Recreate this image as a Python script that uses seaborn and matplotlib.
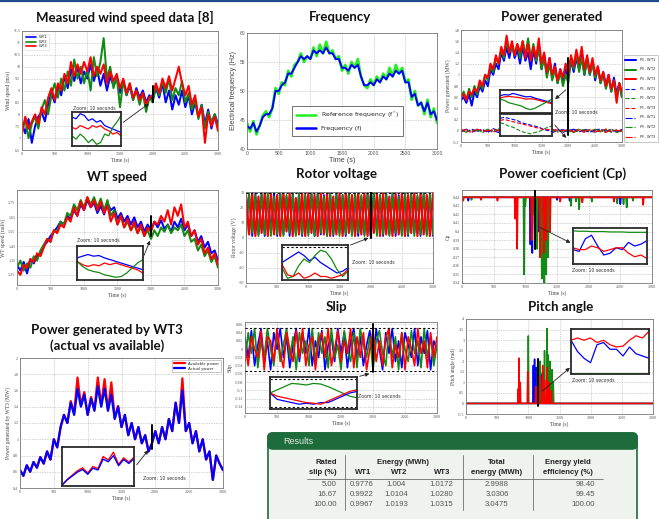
import numpy as np
import matplotlib
matplotlib.use("Agg")
import matplotlib.pyplot as plt
import seaborn as sns
from matplotlib.patches import FancyArrowPatch, FancyBboxPatch
from matplotlib.lines import Line2D
from matplotlib.ticker import FuncFormatter

sns.set_style("white")
plt.rcParams["font.family"] = ["DejaVu Sans"]

# ---------------- data ----------------
TIME_RANGE = (0, 3000)
BLUE, GREEN, RED = "#0000ff", "#138a13", "#ff0000"

wind_wt1 = [7.6, 7.2, 7.8, 6.8, 7.5, 7.9, 8.1, 7.7, 8.4, 8.9, 8.5, 9.2, 8.8, 9.6, 9.1, 9.9, 9.4, 10.0, 9.3, 9.8,
            9.5, 10.1, 9.4, 9.9, 9.2, 9.7, 9.0, 9.6, 9.2, 9.5, 8.9, 9.4, 8.8, 9.2, 8.6, 9.1, 8.7, 9.0, 8.5, 8.8,
            8.6, 9.1, 8.7, 9.3, 8.5, 9.0, 8.2, 8.8, 8.4, 9.0, 8.3, 8.8, 8.0, 8.5, 7.9, 8.4, 7.6, 8.2, 7.4, 8.0, 7.6]
wind_wt2 = [7.3, 7.8, 7.0, 7.6, 7.9, 7.4, 8.2, 8.6, 8.0, 8.8, 9.3, 8.7, 9.5, 9.0, 9.8, 9.2, 10.3, 9.5, 10.0, 9.3,
            9.9, 9.0, 10.4, 9.6, 10.2, 11.2, 9.5, 10.0, 9.1, 9.6, 8.3, 9.4, 8.8, 9.3, 8.6, 9.0, 8.4, 8.9, 8.1, 8.7,
            8.5, 9.2, 8.8, 9.4, 8.9, 9.5, 8.6, 9.1, 8.8, 9.4, 8.5, 8.9, 8.2, 8.6, 7.8, 8.4, 7.4, 8.1, 7.7, 8.0, 7.4]
wind_wt3 = [7.2, 7.9, 7.4, 7.7, 8.0, 7.6, 8.3, 8.0, 8.7, 9.1, 8.6, 9.3, 9.0, 9.7, 9.3, 10.2, 9.6, 10.1, 9.7, 10.2,
            9.8, 10.4, 9.6, 10.0, 9.7, 10.1, 9.3, 9.8, 9.4, 9.7, 9.1, 9.5, 8.9, 9.3, 8.7, 9.0, 8.6, 8.9, 8.4, 8.7,
            8.8, 9.3, 8.9, 9.5, 9.1, 9.6, 9.0, 9.5, 10.0, 9.3, 8.8, 9.2, 8.4, 8.8, 7.9, 8.3, 6.8, 8.0, 7.5, 7.9, 7.3]

freq_ref = [44.5, 43.0, 44.8, 42.5, 44.0, 45.8, 46.5, 45.5, 47.0, 50.5, 49.5, 51.5, 51.0, 53.5, 52.5, 54.5, 55.0,
            56.5, 55.0, 56.0, 55.5, 57.5, 56.0, 58.0, 56.5, 58.5, 56.5, 57.0, 55.5, 56.0, 53.5, 54.5, 53.0, 55.0,
            54.0, 55.5, 52.5, 51.0, 50.5, 52.0, 51.0, 52.5, 51.5, 53.0, 52.0, 54.0, 52.5, 54.5, 53.0, 54.0, 51.5,
            52.0, 48.5, 50.0, 47.5, 48.0, 46.0, 48.5, 45.5, 47.0, 44.5]
freq_act = [44.0, 43.5, 44.5, 43.0, 44.0, 45.5, 46.0, 46.0, 47.0, 50.0, 50.0, 51.0, 51.5, 53.0, 53.0, 54.0, 55.0,
            56.0, 55.5, 56.0, 55.5, 57.0, 56.5, 57.0, 56.5, 57.5, 56.5, 56.5, 55.5, 55.5, 54.0, 54.0, 53.5, 54.5,
            54.0, 54.5, 52.5, 51.0, 51.0, 51.5, 51.0, 52.0, 51.5, 52.5, 52.0, 53.0, 52.5, 53.5, 53.0, 53.5, 51.5,
            51.5, 49.0, 49.5, 47.5, 48.0, 46.5, 48.0, 46.0, 46.5, 45.0]

pg_wt1 = [0.55, 0.6, 0.5, 0.65, 0.45, 0.7, 0.6, 0.8, 0.7, 0.9, 0.8, 1.1, 1.0, 1.2, 1.1, 1.4, 1.25, 1.5, 1.3, 1.55,
          1.3, 1.45, 1.2, 1.5, 1.25, 1.4, 1.1, 1.45, 1.2, 1.55, 1.1, 1.35, 1.0, 1.3, 0.95, 1.2, 0.85, 1.1, 0.9, 1.1,
          0.95, 1.25, 1.05, 1.3, 1.1, 1.35, 1.0, 1.3, 1.0, 1.25, 0.9, 1.15, 0.85, 1.05, 0.8, 1.0, 0.7, 0.95, 0.65,
          0.85, 0.6]
pg_wt2 = [0.6, 0.7, 0.55, 0.75, 0.6, 0.8, 0.65, 0.85, 0.75, 1.0, 0.9, 1.15, 1.05, 1.3, 1.2, 1.45, 1.3, 1.6, 1.4,
          1.5, 1.35, 1.55, 1.3, 1.6, 1.35, 1.65, 1.3, 1.55, 1.25, 1.45, 1.1, 1.3, 0.95, 1.2, 0.9, 1.1, 0.85, 1.05,
          0.8, 1.0, 0.85, 1.3, 1.1, 1.4, 1.05, 1.3, 1.0, 1.25, 1.0, 1.2, 0.95, 1.1, 0.85, 1.0, 0.75, 0.95, 0.7, 0.9,
          0.6, 0.85, 0.6]
pg_wt3 = [0.6, 0.65, 0.55, 0.7, 0.65, 0.75, 0.7, 0.9, 0.8, 1.0, 0.95, 1.2, 1.1, 1.35, 1.2, 1.5, 1.35, 1.7, 1.4,
          1.6, 1.35, 1.55, 1.4, 1.6, 1.3, 1.55, 1.25, 1.5, 1.3, 1.65, 1.2, 1.4, 1.05, 1.3, 1.0, 1.15, 0.9, 1.1,
          0.95, 1.2, 1.0, 1.35, 1.15, 1.45, 1.2, 1.5, 1.1, 1.35, 1.05, 1.3, 1.0, 1.15, 0.9, 1.05, 0.8, 1.0, 0.75,
          0.9, 0.5, 0.85, 0.7]
ps_wt1 = [0.01, -0.02, 0.03, -0.01, 0.02, -0.03, 0.04, 0.0, -0.02, 0.03, -0.01, 0.02, -0.03, 0.01, 0.04, -0.02,
          0.02, -0.01, 0.03, -0.03, 0.01, 0.02, -0.02, 0.03, 0.0, -0.03, 0.02, -0.01, 0.03, -0.02, 0.01]
ps_wt2 = [-0.02, 0.02, -0.01, 0.03, -0.03, 0.01, -0.02, 0.04, -0.01, 0.02, 0.03, -0.02, 0.01, -0.03, 0.02, 0.0,
          -0.02, 0.03, -0.01, 0.02, -0.03, 0.01, 0.03, -0.01, 0.02, -0.02, 0.0, 0.03, -0.03, 0.02, -0.01]
ps_wt3 = [0.02, 0.0, -0.03, 0.02, 0.01, -0.02, 0.03, -0.01, 0.02, -0.03, 0.01, 0.04, -0.02, 0.02, -0.01, 0.03,
          -0.03, 0.0, 0.02, -0.02, 0.03, -0.01, 0.01, -0.03, 0.02, 0.01, -0.02, 0.03, -0.01, 0.0, 0.02]
pr_wt1 = [-0.01, 0.03, -0.02, 0.01, 0.02, -0.01, 0.0, -0.03, 0.03, 0.01, -0.02, 0.02, -0.01, 0.03, -0.02, 0.01,
          0.03, -0.03, 0.0, 0.02, -0.01, 0.03, -0.02, 0.01, -0.03, 0.02, 0.03, -0.01, 0.01, -0.02, 0.02]
pr_wt2 = [0.02, -0.03, 0.01, 0.0, -0.02, 0.03, -0.01, 0.02, -0.02, 0.0, 0.03, -0.01, 0.02, -0.02, 0.01, -0.03,
          0.03, 0.01, -0.02, 0.0, 0.02, -0.03, 0.01, 0.02, -0.01, 0.03, -0.02, 0.0, 0.02, -0.03, 0.0]
pr_wt3 = [0.0, 0.02, -0.02, 0.03, -0.01, 0.01, -0.03, 0.02, 0.0, -0.01, 0.02, -0.03, 0.03, 0.0, -0.02, 0.02,
          -0.01, 0.03, -0.02, 0.01, 0.0, -0.02, 0.03, -0.01, 0.02, -0.02, 0.01, -0.03, 0.02, 0.01, -0.01]

wts_wt1 = [1.32, 1.28, 1.34, 1.26, 1.36, 1.33, 1.38, 1.40, 1.45, 1.48, 1.52, 1.55, 1.58, 1.62, 1.60, 1.66, 1.64,
           1.70, 1.66, 1.74, 1.70, 1.77, 1.72, 1.75, 1.68, 1.73, 1.67, 1.75, 1.70, 1.72, 1.64, 1.68, 1.62, 1.66,
           1.60, 1.65, 1.58, 1.62, 1.55, 1.60, 1.56, 1.62, 1.58, 1.63, 1.57, 1.60, 1.55, 1.62, 1.58, 1.64, 1.56,
           1.60, 1.52, 1.56, 1.48, 1.52, 1.44, 1.48, 1.40, 1.42, 1.35]
wts_wt2 = [1.30, 1.35, 1.28, 1.33, 1.30, 1.38, 1.35, 1.42, 1.46, 1.50, 1.48, 1.56, 1.55, 1.62, 1.60, 1.68, 1.66,
           1.74, 1.70, 1.77, 1.72, 1.79, 1.74, 1.79, 1.72, 1.78, 1.70, 1.77, 1.66, 1.70, 1.60, 1.66, 1.58, 1.62,
           1.56, 1.60, 1.54, 1.58, 1.52, 1.56, 1.50, 1.56, 1.52, 1.58, 1.55, 1.60, 1.54, 1.58, 1.56, 1.60, 1.52,
           1.56, 1.48, 1.50, 1.42, 1.46, 1.38, 1.42, 1.34, 1.38, 1.30]
wts_wt3 = [1.28, 1.25, 1.32, 1.30, 1.36, 1.34, 1.40, 1.38, 1.44, 1.50, 1.48, 1.56, 1.54, 1.60, 1.58, 1.65, 1.62,
           1.72, 1.66, 1.76, 1.70, 1.79, 1.72, 1.77, 1.70, 1.76, 1.68, 1.73, 1.62, 1.68, 1.60, 1.66, 1.58, 1.64,
           1.56, 1.62, 1.54, 1.60, 1.52, 1.58, 1.55, 1.62, 1.60, 1.66, 1.62, 1.70, 1.60, 1.72, 1.66, 1.74, 1.58,
           1.62, 1.52, 1.56, 1.46, 1.50, 1.40, 1.44, 1.36, 1.40, 1.32]

vr_wt1 = [15, 28, 1, 29, 2, 29, 1, 28, 3, 29, 1, 29, 2, 27, 1, 29, 2, 29, 1, 28, 3, 29, 1, 29, 2, 28, 1, 29, 1, 29,
          3, 28, 1, 29, 2, 29, 1, 27, 2, 29, 1, 29, 3, 28, 1, 29, 2, 29, 1, 28, 2, 29, 1, 29, 3, 27, 1, 29, 2, 28, 1]
vr_wt2 = [1, 29, 3, 28, 1, 29, 2, 29, 1, 27, 2, 29, 1, 28, 3, 29, 1, 29, 2, 28, 1, 29, 1, 29, 3, 27, 1, 29, 2, 29,
          1, 28, 2, 29, 1, 29, 3, 28, 1, 29, 2, 29, 1, 28, 2, 29, 1, 29, 3, 27, 1, 29, 2, 29, 1, 28, 2, 29, 1, 29, 2]
vr_wt3 = [28, 2, 29, 1, 27, 3, 29, 1, 29, 2, 28, 1, 29, 4, 29, 1, 26, 2, 29, 1, 29, 3, 28, 1, 29, 2, 29, 1, 27, 2,
          29, 1, 29, 3, 28, 1, 29, 2, 29, 1, 28, 3, 29, 1, 29, 2, 27, 1, 29, 2, 29, 1, 28, 3, 29, 1, 29, 2, 28, 1, 29]

cp_base = 0.44
cp_dip_t_wt1 = [100, 1080, 1110, 1160, 1200, 1250, 1500, 1700, 2450, 2500]
cp_dip_v_wt1 = [0.436, 0.385, 0.375, 0.38, 0.40, 0.41, 0.437, 0.436, 0.437, 0.432]
cp_dip_t_wt2 = [150, 980, 1000, 1120, 1180, 1230, 1260, 1300, 1330, 1360, 1720, 1800, 1850, 2050, 2450, 2550,
                2600, 2700]
cp_dip_v_wt2 = [0.437, 0.35, 0.43, 0.42, 0.38, 0.41, 0.345, 0.34, 0.35, 0.37, 0.43, 0.435, 0.426, 0.435, 0.433,
                0.432, 0.428, 0.436]
cp_dip_t_wt3 = [20, 300, 560, 840, 870, 1100, 1150, 1230, 1290, 1330, 1390, 1550, 1900, 2400, 2860]
cp_dip_v_wt3 = [0.436, 0.437, 0.436, 0.415, 0.38, 0.39, 0.405, 0.37, 0.375, 0.39, 0.40, 0.435, 0.434, 0.435,
                0.431]

p3_actual = [0.62, 0.55, 0.68, 0.6, 0.72, 0.65, 0.78, 0.7, 0.85, 0.75, 1.0, 0.9, 1.15, 1.3, 1.2, 1.45, 1.3, 1.62,
             1.4, 1.55, 1.3, 1.5, 1.35, 1.65, 1.4, 1.62, 1.35, 1.55, 1.25, 1.4, 1.15, 1.3, 1.05, 1.2, 1.0, 1.15,
             0.95, 1.05, 0.85, 0.95, 1.1, 0.95, 1.15, 1.0, 1.25, 1.1, 1.45, 1.2, 1.6, 1.1, 1.2, 0.95, 1.1, 0.85,
             1.0, 0.75, 0.85, 0.5, 0.8, 0.7, 0.62]
p3_available = [0.62, 0.55, 0.68, 0.6, 0.72, 0.65, 0.78, 0.7, 0.85, 0.75, 1.0, 0.9, 1.15, 1.3, 1.2, 1.47, 1.32,
                1.76, 1.42, 1.58, 1.3, 1.52, 1.37, 1.76, 1.42, 1.74, 1.36, 1.7, 1.26, 1.41, 1.15, 1.3, 1.05, 1.2,
                1.0, 1.15, 0.95, 1.05, 0.85, 0.95, 1.1, 0.95, 1.15, 1.0, 1.25, 1.1, 1.45, 1.2, 1.75, 1.1, 1.2, 0.95,
                1.1, 0.85, 1.0, 0.75, 0.85, 0.5, 0.8, 0.7, 0.62]

slip_wt1 = [0.03, -0.02, 0.045, -0.04, 0.01, 0.05, -0.03, 0.02, -0.05, 0.04, 0.0, 0.05, -0.02, 0.03, -0.045, 0.01,
            0.05, -0.03, 0.04, -0.01, 0.05, -0.04, 0.02, -0.02, 0.045, -0.05, 0.01, 0.03, -0.03, 0.05, -0.01, 0.04,
            -0.045, 0.02, 0.05, -0.02, 0.03, -0.04, 0.01, 0.045, -0.03, 0.05, 0.0, -0.05, 0.04, -0.01, 0.05, -0.03,
            0.02, -0.045, 0.04, 0.01, -0.02, 0.05, -0.04, 0.03, -0.01, 0.045, -0.05, 0.02, 0.0]
slip_wt2 = [-0.03, 0.04, -0.01, 0.05, -0.045, 0.02, -0.02, 0.05, 0.0, -0.04, 0.045, -0.03, 0.01, 0.05, -0.02, 0.03,
            -0.05, 0.04, -0.01, 0.02, -0.04, 0.05, -0.03, 0.04, -0.01, 0.03, -0.045, 0.05, -0.02, 0.01, -0.05,
            0.045, 0.0, -0.03, 0.04, -0.045, 0.05, 0.01, -0.02, 0.03, -0.05, 0.02, 0.045, -0.01, -0.04, 0.05, -0.02,
            0.03, -0.05, 0.04, 0.0, -0.03, 0.045, -0.01, 0.02, -0.045, 0.05, -0.02, 0.03, -0.04, 0.01]
slip_wt3 = [0.01, -0.04, 0.03, 0.0, -0.02, 0.045, -0.05, 0.03, 0.02, -0.03, 0.05, -0.01, -0.045, 0.04, 0.0, -0.03,
            0.045, -0.02, 0.05, -0.04, 0.01, 0.03, -0.05, 0.02, 0.04, -0.02, 0.05, -0.04, 0.0, 0.045, -0.03, 0.02,
            -0.01, 0.05, -0.045, 0.03, -0.02, 0.04, -0.05, 0.0, 0.045, -0.03, 0.02, -0.04, 0.03, 0.05, -0.045, 0.01,
            -0.02, 0.04, -0.05, 0.03, 0.0, -0.04, 0.05, -0.01, 0.02, -0.045, 0.04, -0.02, 0.03]
slip_limit = 0.052

pitch_t_wt1 = [1080, 1100, 1130, 1160, 1190, 1220]
pitch_v_wt1 = [1.8, 2.1, 1.7, 2.1, 1.2, 1.4]
pitch_t_wt2 = [1000, 1150, 1190, 1230, 1260, 1300, 1320, 1350, 1380, 1400]
pitch_v_wt2 = [3.2, 1.9, 2.0, 1.5, 2.5, 3.55, 2.3, 2.0, 1.6, 1.0]
pitch_t_wt3 = [840, 850, 870, 990, 1120, 1180, 1230, 1260, 1300, 1330, 1370]
pitch_v_wt3 = [0.7, 2.15, 1.0, 1.5, 0.8, 1.3, 1.8, 1.1, 1.7, 1.0, 0.6]

# zoom windows (10 s) : normalised inset traces
zin_wind = {"b": [0.85, 0.8, 0.95, 0.9, 0.75, 0.8, 0.7, 0.75, 0.6, 0.55, 0.5, 0.45, 0.4],
            "r": [0.55, 0.5, 0.6, 0.55, 0.5, 0.6, 0.55, 0.6, 0.5, 0.45, 0.35, 0.4, 0.3],
            "g": [0.3, 0.2, 0.35, 0.25, 0.1, 0.2, 0.05, 0.1, 0.35, 0.3, 0.55, 0.7, 0.9]}
zin_pg = {"b": [0.75, 0.8, 0.78, 0.85, 0.8, 0.75, 0.7, 0.72, 0.65, 0.6, 0.55, 0.5, 0.45],
          "r": [0.65, 0.7, 0.72, 0.7, 0.68, 0.65, 0.6, 0.62, 0.6, 0.55, 0.5, 0.45, 0.4],
          "g": [0.6, 0.55, 0.45, 0.4, 0.35, 0.3, 0.2, 0.15, 0.2, 0.3, 0.4, 0.5, 0.6]}
zin_ps = {"b": [0.8, 0.85, 0.8, 0.75, 0.7, 0.6, 0.55, 0.5, 0.45, 0.4, 0.3, 0.25, 0.2],
          "r": [0.7, 0.75, 0.7, 0.65, 0.6, 0.55, 0.5, 0.45, 0.4, 0.35, 0.3, 0.3, 0.25],
          "g": [0.6, 0.55, 0.45, 0.4, 0.3, 0.2, 0.15, 0.1, 0.15, 0.2, 0.3, 0.4, 0.45]}
zin_wts = {"b": [0.65, 0.7, 0.75, 0.7, 0.72, 0.65, 0.6, 0.55, 0.5, 0.45, 0.4, 0.35, 0.3],
           "r": [0.55, 0.45, 0.4, 0.45, 0.42, 0.5, 0.45, 0.5, 0.45, 0.4, 0.35, 0.3, 0.2],
           "g": [0.55, 0.4, 0.3, 0.25, 0.22, 0.15, 0.12, 0.08, 0.1, 0.2, 0.35, 0.5, 0.6]}
zin_vr = {"b": [0.5, 0.6, 0.7, 0.8, 0.7, 0.55, 0.65, 0.5, 0.4, 0.3, 0.2, 0.25, 0.35],
          "g": [0.35, 0.05, 0.1, 0.4, 0.6, 0.5, 0.7, 0.85, 0.8, 0.6, 0.3, 0.1, 0.25],
          "r": [0.45, 0.15, 0.1, 0.2, 0.05, 0.1, 0.2, 0.1, 0.1, 0.05, 0.1, 0.15, 0.3]}
zin_cp = {"g": [0.92, 0.91, 0.91, 0.9, 0.9, 0.9, 0.89, 0.89, 0.89, 0.88, 0.88, 0.88, 0.88],
          "b": [0.4, 0.35, 0.7, 0.8, 0.5, 0.25, 0.3, 0.45, 0.4, 0.6, 0.5, 0.55, 0.65],
          "r": [0.45, 0.4, 0.4, 0.5, 0.45, 0.35, 0.4, 0.45, 0.45, 0.3, 0.2, 0.25, 0.15]}
zin_slip = {"g": [0.5, 0.6, 0.7, 0.8, 0.78, 0.75, 0.8, 0.78, 0.7, 0.6, 0.5, 0.4, 0.35],
            "b": [0.5, 0.3, 0.25, 0.2, 0.15, 0.18, 0.15, 0.2, 0.2, 0.3, 0.4, 0.5, 0.55],
            "r": [0.5, 0.4, 0.35, 0.3, 0.25, 0.2, 0.18, 0.15, 0.25, 0.35, 0.45, 0.55, 0.6]}
zin_pitch = {"g": [0.03, 0.03, 0.03, 0.03, 0.03, 0.03, 0.03, 0.03, 0.03, 0.03, 0.03, 0.03, 0.03],
             "b": [0.75, 0.5, 0.35, 0.25, 0.65, 0.7, 0.55, 0.55, 0.4, 0.6, 0.45, 0.4, 0.35],
             "r": [0.75, 0.8, 0.75, 0.8, 0.7, 0.75, 0.65, 0.6, 0.62, 0.75, 0.85, 0.8, 0.95]}
zin_p3 = {"r": [0.02, 0.15, 0.25, 0.35, 0.42, 0.3, 0.45, 0.4, 0.68, 0.6, 0.78, 0.5, 0.65, 0.55, 0.66],
          "b": [0.02, 0.14, 0.23, 0.32, 0.38, 0.27, 0.41, 0.37, 0.62, 0.56, 0.7, 0.47, 0.61, 0.52, 0.63]}

zoom_time = {"wind": 2000, "pg": 2000, "wts": 2000, "vr": 2000, "cp": 1150, "slip": 2000, "pitch": 1150,
             "p3": 1950}

tbl_slip = ["5.00", "16.67", "100.00"]
tbl_wt1 = ["0.9776", "0.9922", "0.9967"]
tbl_wt2 = ["1.004", "1.0104", "1.0193"]
tbl_wt3 = ["1.0172", "1.0280", "1.0315"]
tbl_total = ["2.9988", "3.0306", "3.0475"]
tbl_eff = ["98.40", "99.45", "100.00"]

# ---------------- helpers ----------------
W, H = 659, 519
fig = plt.figure(figsize=(W / 100, H / 100), dpi=100)
fig.patch.set_facecolor("white")
SERIF = "Liberation Serif"


def ax_px(l, t, r, b):
    return fig.add_axes([l / W, 1 - b / H, (r - l) / W, (b - t) / H])


def fp(x, y):
    return (x / W, 1 - y / H)


def line(ax, y, color, lw=1.0, ls="-", label=None, t=None, x0=0, x1=3000, z=2):
    y = np.asarray(y, float)
    x = np.linspace(x0, x1, len(y)) if t is None else np.asarray(t, float)
    sns.lineplot(x=x, y=y, ax=ax, color=color, lw=lw, linestyle=ls, label=label,
                 estimator=None, sort=False, legend=False, zorder=z)


def spikes(base, ts, vs, width=8):
    xs, ys = [0.0], [base]
    for t, v in sorted(zip(ts, vs)):
        xs += [t - width, t, t + width]
        ys += [base, v, base]
    xs.append(3000.0)
    ys.append(base)
    return xs, ys


def style(ax, ylim, yticks, ylabel, serif=True, fs=3.0, lfs=4.0):
    fam = SERIF if serif else "Liberation Sans"
    ax.set_xlim(*TIME_RANGE)
    ax.set_ylim(*ylim)
    ax.set_xticks(list(range(0, 3001, 500)))
    ax.set_yticks(yticks)
    fmt = FuncFormatter(lambda v, p: "{:g}".format(round(v, 4)))
    ax.xaxis.set_major_formatter(fmt)
    ax.yaxis.set_major_formatter(fmt)
    ax.grid(True, ls=":", lw=0.45, color="#9a9a9a")
    ax.tick_params(labelsize=fs, length=1.5, width=0.4, direction="in", pad=1.2, colors="#555555")
    for lab in ax.get_xticklabels() + ax.get_yticklabels():
        lab.set_family(fam)
    for s in ax.spines.values():
        s.set_lw(0.6)
        s.set_color("#777777")
    ax.set_xlabel("Time (s)", fontsize=lfs, family=fam, labelpad=1, color="#444444")
    ax.set_ylabel(ylabel, fontsize=lfs, family=fam, labelpad=1.5, color="#444444")


def title(x, y, s, size=9.5):
    fig.text(x / W, 1 - y / H, s, ha="center", va="center", fontsize=size, fontweight="bold",
             family="Lato", color="#111111")


def inset(l, t, r, b, traces, ylim=(0, 1), lw=1.0, ls="-", extra=None):
    a = ax_px(l, t, r, b)
    cmap = {"b": BLUE, "g": GREEN, "r": RED}
    for k, v in traces.items():
        line(a, v, cmap[k], lw=lw, ls=ls, x0=0, x1=10)
    a.set_xlim(0, 10)
    a.set_ylim(*ylim)
    a.set_xticks([])
    a.set_yticks([])
    a.set_xlabel("")
    a.set_ylabel("")
    a.set_facecolor("white")
    for s in a.spines.values():
        s.set_lw(1.3)
        s.set_color("#2a2a2a")
    if extra:
        extra(a)
    return a


def arrow(p_from, p_to):
    fig.add_artist(FancyArrowPatch(fp(*p_from), fp(*p_to), transform=fig.transFigure,
                                   arrowstyle="-|>,head_length=2.2,head_width=1.1", lw=0.6,
                                   color="#222222", zorder=20))


def ztext(x, y, ha="left"):
    fig.text(x / W, 1 - y / H, "Zoom: 10 seconds", fontsize=3.3, ha=ha, va="center", color="#333333")


def mark(ax, key, y0, y1, lw=1.4):
    ax.plot([zoom_time[key]] * 2, [y0, y1], color="black", lw=lw, zorder=5)


# top rule
fig.add_artist(Line2D([0, 1], [0.998, 0.998], transform=fig.transFigure, color="#1f4a8a", lw=1.6))

MAIN_LW = 1.45

# ---------------- 1. wind speed ----------------
title(125, 17, "Measured wind speed data [8]")
ax = ax_px(22, 31, 218, 150)
line(ax, wind_wt1, BLUE, MAIN_LW, label="WT1")
line(ax, wind_wt2, GREEN, MAIN_LW, label="WT2")
line(ax, wind_wt3, RED, MAIN_LW, label="WT3")
mark(ax, "wind", 8.5, 9.2)
style(ax, (6.5, 11.5), np.arange(6.5, 11.51, 0.5), "Wind speed (m/s)")
leg = ax.legend(loc="upper left", fontsize=2.8, frameon=True, handlelength=2.5, borderpad=0.3,
                labelspacing=0.15, bbox_to_anchor=(0.005, 0.99))
leg.get_frame().set_linewidth(0.4)
for h in leg.get_lines():
    h.set_linewidth(1.2)
inset(72, 112, 121, 146, zin_wind, lw=0.9)
ztext(73, 108)
arrow((121, 124), (151, 102))

# ---------------- 2. frequency ----------------
title(340, 17, "Frequency")
ax = ax_px(247, 33, 437, 149)
line(ax, freq_ref, "#22ee22", 1.9, label="Reference frequency (f$^*$)")
line(ax, freq_act, BLUE, 1.4, label="Frequency (f)")
style(ax, (40, 60), [40, 45, 50, 55, 60], "Electrical frequency (Hz)", serif=False, fs=3.6, lfs=5.2)
leg = ax.legend(loc="lower center", fontsize=4.4, frameon=True, handlelength=3.2, borderpad=0.7,
                labelspacing=0.9, bbox_to_anchor=(0.53, 0.09), fancybox=False, edgecolor="#333333")
leg.get_frame().set_linewidth(0.6)
for h in leg.get_lines():
    h.set_linewidth(1.8)

# ---------------- 3. power generated ----------------
title(552, 17, "Power generated")
ax = ax_px(461, 30, 622, 142)
line(ax, pg_wt1, BLUE, MAIN_LW, label="$P_G$ - WT1")
line(ax, pg_wt2, GREEN, MAIN_LW, label="$P_G$ - WT2")
line(ax, pg_wt3, RED, MAIN_LW, label="$P_G$ - WT3")
line(ax, ps_wt1, BLUE, 0.8, "--", label="$P_S$ - WT1")
line(ax, ps_wt2, GREEN, 0.8, "--", label="$P_S$ - WT2")
line(ax, ps_wt3, RED, 0.8, "--", label="$P_S$ - WT3")
line(ax, pr_wt1, BLUE, 0.8, "-.", label="$P_R$ - WT1")
line(ax, pr_wt2, GREEN, 0.8, "-.", label="$P_R$ - WT2")
line(ax, pr_wt3, RED, 0.8, "-.", label="$P_R$ - WT3")
mark(ax, "pg", -0.08, 1.3)
style(ax, (-0.2, 1.8), np.arange(-0.2, 1.81, 0.2), "Power generated (MW)")
h, l = ax.get_legend_handles_labels()
leg = fig.legend(h, l, loc="upper left", bbox_to_anchor=fp(622, 53), fontsize=2.6, frameon=True,
                 handlelength=3.0, borderpad=0.4, labelspacing=0.55, fancybox=False, edgecolor="#888888")
leg.get_frame().set_linewidth(0.4)
inset(500, 90, 552, 113, zin_pg, lw=0.9)
inset(500, 114, 552, 136, zin_ps, lw=0.8, ls="--")
ztext(555, 113)
arrow((568, 88), (553, 101))
arrow((553, 123), (568, 140))

# ---------------- 4. WT speed ----------------
title(117, 177, "WT speed")
ax = ax_px(17, 190, 218, 285)
line(ax, wts_wt1, BLUE, MAIN_LW)
line(ax, wts_wt2, GREEN, MAIN_LW)
line(ax, wts_wt3, RED, MAIN_LW)
mark(ax, "wts", 1.52, 1.66)
style(ax, (1.18, 1.84), [1.25, 1.35, 1.45, 1.55, 1.65, 1.75], "WT speed (rad/s)")
inset(77, 246, 143, 280, zin_wts, lw=0.9)
ztext(77, 241)
arrow((143, 258), (151, 238))

# ---------------- 5. rotor voltage ----------------
title(336, 174, "Rotor voltage")
ax = ax_px(246, 192, 433, 283)
line(ax, vr_wt1, BLUE, 1.3)
line(ax, vr_wt2, GREEN, 1.3)
line(ax, vr_wt3, RED, 1.6)
ax.axhline(29.5, color="black", ls=(0, (2, 2)), lw=0.8, zorder=4)
mark(ax, "vr", 0, 30, lw=1.6)
style(ax, (-30, 30), [-30, -20, -10, 0, 10, 20, 30], "Rotor voltage (V)")
inset(282, 245, 348, 280, zin_vr, lw=0.9,
      extra=lambda a: a.axhline(0.93, color="black", ls=(0, (2, 2)), lw=0.8))
ztext(352, 262)
arrow((348, 246), (371, 237))

# ---------------- 6. Cp ----------------
title(563, 174, "Power coeficient (Cp)")
ax = ax_px(462, 190, 652, 283)
for tt_, vv_, c in [(cp_dip_t_wt1, cp_dip_v_wt1, BLUE), (cp_dip_t_wt2, cp_dip_v_wt2, GREEN),
                    (cp_dip_t_wt3, cp_dip_v_wt3, RED)]:
    xs, ys = spikes(cp_base, tt_, vv_, width=10)
    line(ax, ys, c, 1.2, t=xs)
mark(ax, "cp", 0.38, 0.448)
style(ax, (0.34, 0.4485), np.arange(0.34, 0.4401, 0.01), "Cp")
inset(573, 228, 647, 264, zin_cp, lw=0.9)
ztext(572, 270)
arrow((537, 226), (573, 244))

# ---------------- 7. WT3 actual vs available ----------------
title(107, 330, "Power generated by WT3")
title(107, 346, "(actual vs available)")
ax = ax_px(20, 358, 223, 488)
line(ax, p3_available, RED, 1.6, label="Available power")
line(ax, p3_actual, BLUE, 1.6, label="Actual power")
mark(ax, "p3", 0.88, 1.18)
style(ax, (0.4, 2.0), np.arange(0.4, 2.01, 0.2), "Power generated by WT3 (MW)")
leg = ax.legend(loc="upper right", fontsize=2.8, frameon=True, handlelength=3.0, borderpad=0.4,
                labelspacing=0.3, fancybox=False, edgecolor="#888888")
leg.get_frame().set_linewidth(0.4)
for hh in leg.get_lines():
    hh.set_linewidth(1.6)
inset(62, 447, 134, 486, zin_p3, lw=1.0, ylim=(0, 0.9))
ztext(143, 479)
arrow((135, 467), (150, 448))

# ---------------- 8. slip ----------------
title(336, 307, "Slip")
ax = ax_px(245, 322, 437, 413)
line(ax, slip_wt1, BLUE, 1.2)
line(ax, slip_wt2, GREEN, 1.2)
line(ax, slip_wt3, RED, 1.2)
ax.axhline(slip_limit, color="black", ls=(0, (2, 2)), lw=0.8, zorder=4)
ax.axhline(-slip_limit, color="black", ls=(0, (2, 2)), lw=0.8, zorder=4)
mark(ax, "slip", -0.055, 0.06)
style(ax, (-0.155, 0.066), np.arange(-0.14, 0.061, 0.02), "Slip")


def _slipbox(a):
    a.axhline(0.95, color="black", ls=(0, (2, 2)), lw=0.8)
    a.axhline(0.05, color="black", ls=(0, (2, 2)), lw=0.8)


inset(270, 377, 357, 409, zin_slip, lw=0.9, extra=_slipbox)
ztext(358, 397)
arrow((357, 377), (372, 373))

# ---------------- 9. pitch ----------------
title(561, 307, "Pitch angle")
ax = ax_px(466, 319, 653, 414)
for tt_, vv_, c in [(pitch_t_wt1, pitch_v_wt1, BLUE), (pitch_t_wt2, pitch_v_wt2, GREEN),
                    (pitch_t_wt3, pitch_v_wt3, RED)]:
    xs, ys = spikes(0.0, tt_, vv_, width=8)
    line(ax, ys, c, 1.1, t=xs)
mark(ax, "pitch", -0.1, 2.1)
style(ax, (-0.5, 4.0), np.arange(-0.5, 4.01, 0.5), "Pitch angle (rad)")
inset(571, 329, 649, 374, zin_pitch, lw=0.9)
ztext(572, 380)
arrow((540, 393), (572, 366))

# ---------------- table ----------------
box = FancyBboxPatch(fp(268, 540), (637 - 268) / W, (540 - 433) / H, boxstyle="round,pad=0,rounding_size=0.008",
                     transform=fig.transFigure, facecolor="#eef3ee", edgecolor="#1e6b3b", lw=1.2, zorder=1)
fig.add_artist(box)
hdr = FancyBboxPatch(fp(268, 449), (637 - 268) / W, (449 - 433) / H, boxstyle="round,pad=0,rounding_size=0.008",
                     transform=fig.transFigure, facecolor="#1e6b3b", edgecolor="#1e6b3b", lw=1.2, zorder=2)
fig.add_artist(hdr)
fig.text(283 / W, 1 - 441 / H, "Results", fontsize=6.5, color="#dfeadf", va="center", ha="left",
         family="Liberation Sans", zorder=3)

TF = "Liberation Sans"


def tt(x, y, s, ha="center", bold=False, size=5.6, color="#222222"):
    fig.text(x / W, 1 - y / H, s, ha=ha, va="center", fontsize=size, family=TF,
             fontweight="bold" if bold else "normal", color=color, zorder=4)


tt(337, 462, "Rated", ha="right", bold=True)
tt(337, 473, "slip (%)", ha="right", bold=True)
tt(403, 462, "Energy (MWh)", bold=True)
tt(363, 473, "WT1", bold=True)
tt(399, 473, "WT2", bold=True)
tt(442, 473, "WT3", bold=True)
tt(497, 462, "Total", bold=True)
tt(497, 473, "energy (MWh)", bold=True)
tt(568, 462, "Energy yield", bold=True)
tt(568, 473, "efficiency (%)", bold=True)
rows_y = [484, 494.5, 505]
for i, y in enumerate(rows_y):
    tt(337, y, tbl_slip[i], ha="right", color="#555555")
    tt(362, y, tbl_wt1[i], color="#555555")
    tt(396, y, tbl_wt2[i], color="#555555")
    tt(441, y, tbl_wt3[i], color="#555555")
    tt(497, y, tbl_total[i], color="#555555")
    tt(595, y, tbl_eff[i], ha="right", color="#555555")
for xv in [345, 463, 533]:
    fig.add_artist(Line2D([xv / W] * 2, [1 - 455 / H, 1 - 510 / H], transform=fig.transFigure,
                          color="#555555", lw=0.5, zorder=4))
fig.add_artist(Line2D([307 / W, 603 / W], [1 - 479 / H] * 2, transform=fig.transFigure,
                      color="#555555", lw=0.5, zorder=4))

fig.savefig("out.png", dpi=100, facecolor="white")
